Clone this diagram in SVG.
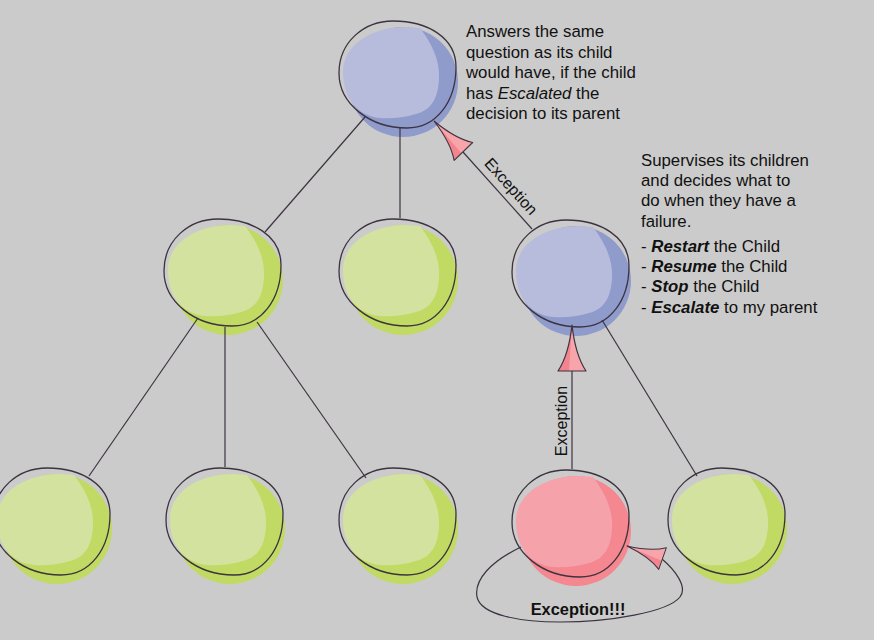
<svg xmlns="http://www.w3.org/2000/svg" xmlns:xlink="http://www.w3.org/1999/xlink" width="874" height="640" viewBox="0 0 874 640">
<style>
.t{font-family:"Liberation Sans",Arial,sans-serif;font-size:16.8px;fill:#111}
.lbl{font-family:"Liberation Sans",Arial,sans-serif;font-size:16px;fill:#111}
.bold{font-family:"Liberation Sans",Arial,sans-serif;font-size:16.4px;font-weight:bold;fill:#111}
.ol{fill:none;stroke:#3d3340;stroke-width:1.3}
.ln{fill:none;stroke:#3d3340;stroke-width:1.2}
.g .dk{fill:#c0da64}.g .lt{fill:#d3e29f}
.b .dk{fill:#8f9bcb}.b .lt{fill:#b8bcdc}
.r .dk{fill:#f4878f}.r .lt{fill:#f6a2aa}
</style>
<defs>
<ellipse id="dkS" cx="5" cy="8" rx="55" ry="55"/>
<path id="ltS" d="M-55,-2 C-55,-30 -25,-47 8,-47 L22,-46 C34,-30 42,-14 41,5 C40,25 33,36 18,40 C5,44 -8,45 -18,44 C-40,42 -55,25 -55,-2 Z"/>
<path id="olS" d="M-59,-1 C-59,-32 -34,-53 -5,-53 C30,-53 58,-36 58,-7 C58,28 38,54 9,54 C-28,54 -59,30 -59,-1 Z"/>
<g id="arrowHead">
<path d="M0,0 C-2,18 -6,34 -14,46 L14,46 C6,34 2,18 0,0 Z" fill="#f7a4ab"/>
<path d="M0,0 C-2,18 -6,34 -14,46 L-3,46 C-2,30 -1,15 0,0 Z" fill="#f2848f"/>
<path d="M0,0 C-2,18 -6,34 -14,46 L14,46 C6,34 2,18 0,0 Z" fill="none" stroke="#3d3340" stroke-width="1.2" stroke-linejoin="round"/>
</g>
</defs>
<rect width="874" height="640" fill="#cbcbcb"/>

<g id="n-top" class="b" transform="translate(398,74)"><use xlink:href="#dkS" class="dk"/><use xlink:href="#ltS" class="lt"/><use xlink:href="#olS" class="ol"/></g>
<g id="n-midleft" class="g" transform="translate(223,272)"><use xlink:href="#dkS" class="dk"/><use xlink:href="#ltS" class="lt"/><use xlink:href="#olS" class="ol"/></g>
<g id="n-midcenter" class="g" transform="translate(398,272)"><use xlink:href="#dkS" class="dk"/><use xlink:href="#ltS" class="lt"/><use xlink:href="#olS" class="ol"/></g>
<g id="n-midright" class="b" transform="translate(571,273)"><use xlink:href="#dkS" class="dk"/><use xlink:href="#ltS" class="lt"/><use xlink:href="#olS" class="ol"/></g>
<g id="n-bot1" class="g" transform="translate(52,521)"><use xlink:href="#dkS" class="dk"/><use xlink:href="#ltS" class="lt"/><use xlink:href="#olS" class="ol"/></g>
<g id="n-bot2" class="g" transform="translate(225,521)"><use xlink:href="#dkS" class="dk"/><use xlink:href="#ltS" class="lt"/><use xlink:href="#olS" class="ol"/></g>
<g id="n-bot3" class="g" transform="translate(398,521)"><use xlink:href="#dkS" class="dk"/><use xlink:href="#ltS" class="lt"/><use xlink:href="#olS" class="ol"/></g>
<g id="n-red" class="r" transform="translate(571,523)"><use xlink:href="#dkS" class="dk"/><use xlink:href="#ltS" class="lt"/><use xlink:href="#olS" class="ol"/></g>
<g id="n-bot5" class="g" transform="translate(727,521)"><use xlink:href="#dkS" class="dk"/><use xlink:href="#ltS" class="lt"/><use xlink:href="#olS" class="ol"/></g>

<g id="connectors">
<line class="ln" x1="365" y1="117" x2="265" y2="232"/>
<line class="ln" x1="400" y1="128" x2="400" y2="218"/>
<line class="ln" x1="463" y1="152" x2="532" y2="229"/>
<line class="ln" x1="198" y1="318" x2="89" y2="476"/>
<line class="ln" x1="225" y1="327" x2="225" y2="467"/>
<line class="ln" x1="257" y1="322" x2="366" y2="478"/>
<line class="ln" x1="602" y1="320" x2="697" y2="476"/>
<line class="ln" x1="572" y1="469" x2="572" y2="371"/>
<path class="ln" d="M521,547 C490,562 474,580 477,597 C481,615 520,622 560,622 C610,622 668,612 680,597 C688,587 675,570 662,559"/>
<use xlink:href="#arrowHead" transform="translate(434,121) rotate(-44) scale(0.92)"/>
<use xlink:href="#arrowHead" transform="translate(572,325)"/>
<use xlink:href="#arrowHead" transform="translate(627,546) rotate(-70.6) scale(0.82)"/>
<text class="lbl" text-anchor="middle" transform="translate(507,190) rotate(48)">Exception</text>
<text class="lbl" text-anchor="middle" transform="translate(567,421) rotate(-90)">Exception</text>
<text class="bold" x="578" y="615" text-anchor="middle">Exception!!!</text>
</g>

<g id="note-top" class="t">
<text x="466" y="37">Answers the same</text>
<text x="466" y="58">question as its child</text>
<text x="466" y="78">would have, if the child</text>
<text x="466" y="99">has <tspan font-style="italic">Escalated</tspan> the</text>
<text x="466" y="119">decision to its parent</text>
</g>
<g id="note-right" class="t">
<text x="641" y="166">Supervises its children</text>
<text x="641" y="186">and decides what to</text>
<text x="641" y="206">do when they have a</text>
<text x="641" y="227">failure.</text>
<text x="641" y="252">- <tspan font-weight="bold" font-style="italic">Restart</tspan> the Child</text>
<text x="641" y="272">- <tspan font-weight="bold" font-style="italic">Resume</tspan> the Child</text>
<text x="641" y="292">- <tspan font-weight="bold" font-style="italic">Stop</tspan> the Child</text>
<text x="641" y="313">- <tspan font-weight="bold" font-style="italic">Escalate</tspan> to my parent</text>
</g>
</svg>
